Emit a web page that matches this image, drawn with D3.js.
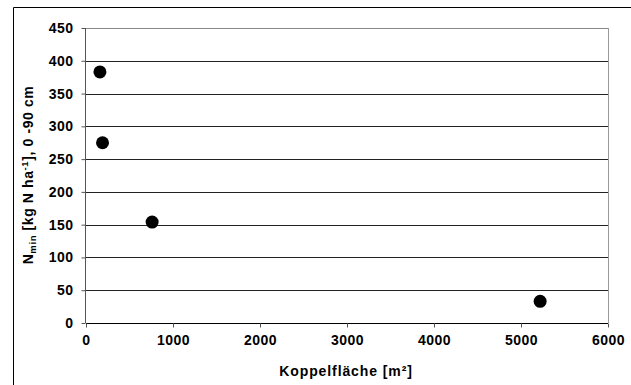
<!DOCTYPE html>
<html>
<head>
<meta charset="utf-8">
<script src="https://cdn.jsdelivr.net/npm/d3@7"></script>
<style>
  body { margin: 0; background: #fff; }
  svg { display: block; font-family: 'Liberation Sans', Arial, sans-serif; font-weight: bold; }
</style>
</head>
<body>
<svg class="chart"></svg>
<script>
const width = 631
const height = 385
const margin = { top: 28, right: 23, bottom: 62, left: 86 }

// Koppelfläche [m²] vs Nmin
const area = [160, 190, 760, 5220]
const nmin = [383, 275, 154, 33]
const xTicks = [0, 1000, 2000, 3000, 4000, 5000, 6000]
const yTicks = [0, 50, 100, 150, 200, 250, 300, 350, 400, 450]

const data = area.map((a, i) => ({ x: a, y: nmin[i] }))

const x = d3.scaleLinear().domain([0, 6000]).range([margin.left, width - margin.right])
const y = d3.scaleLinear().domain([0, 450]).range([height - margin.bottom, margin.top])

const svg = d3.select('.chart').attr('width', width).attr('height', height)

// outer frame (top + left only visible)
svg.append('path')
  .attr('d', `M13.5,${height} V7.5 H${width}`)
  .attr('fill', 'none')
  .attr('stroke', '#000')
  .attr('stroke-width', 1)

// gridlines
svg.append('g')
  .selectAll('line')
  .data(yTicks.filter(d => d > 0))
  .join('line')
  .attr('x1', margin.left)
  .attr('x2', width - margin.right)
  .attr('y1', d => Math.round(y(d)) + 0.5)
  .attr('y2', d => Math.round(y(d)) + 0.5)
  .attr('stroke', d => (d === 450 ? '#888' : '#222'))

// right border of plot area
svg.append('line')
  .attr('x1', Math.round(x(6000)) + 0.5)
  .attr('x2', Math.round(x(6000)) + 0.5)
  .attr('y1', y(450))
  .attr('y2', y(0))
  .attr('stroke', '#999')

const styleText = sel => sel
  .attr('font-size', 14).attr('font-weight', 'bold').attr('font-family', 'Liberation Sans, Arial, sans-serif')
  .attr('letter-spacing', 0.5).attr('fill', '#000')

const xAxis = svg.append('g')
  .attr('transform', `translate(0,${Math.round(y(0)) + 0.5})`)
  .call(d3.axisBottom(x).tickValues(xTicks).tickSize(4).tickPadding(8).tickFormat(d3.format('d')))
xAxis.select('.domain').attr('stroke', '#000').attr('d', `M${margin.left},0H${width - margin.right}`)
xAxis.selectAll('.tick line').attr('stroke', '#555')
xAxis.selectAll('text').call(styleText)

const yAxis = svg.append('g')
  .attr('transform', `translate(${margin.left - 0.5},0)`)
  .call(d3.axisLeft(y).tickValues(yTicks).tickSize(4).tickPadding(8))
yAxis.select('.domain').attr('stroke', '#555').attr('d', `M0,${y(450)}V${y(0)}`)
yAxis.selectAll('.tick line').attr('stroke', '#555')
yAxis.selectAll('text').call(styleText)

// points
svg.append('g')
  .selectAll('circle')
  .data(data)
  .join('circle')
  .attr('cx', d => x(d.x))
  .attr('cy', d => y(d.y))
  .attr('r', 6.5)
  .attr('fill', '#000')

// axis titles
svg.append('text')
  .attr('x', 346)
  .attr('y', 376)
  .attr('text-anchor', 'middle')
  .attr('font-size', 14)
  .attr('letter-spacing', 0.9)
  .text('Koppelfläche [m²]')

const yt = svg.append('text')
  .attr('transform', 'translate(33,175) rotate(-90)')
  .attr('text-anchor', 'middle')
  .attr('font-size', 14)
  .attr('letter-spacing', 0.6)
yt.append('tspan').text('N')
yt.append('tspan').attr('font-size', 9.5).attr('dy', 3).text('min')
yt.append('tspan').attr('dy', -3).text(' [kg N ha')
yt.append('tspan').attr('font-size', 9.5).attr('dy', -5).text('-1')
yt.append('tspan').attr('dy', 5).text('], 0 -90 cm')
</script>
</body>
</html>
